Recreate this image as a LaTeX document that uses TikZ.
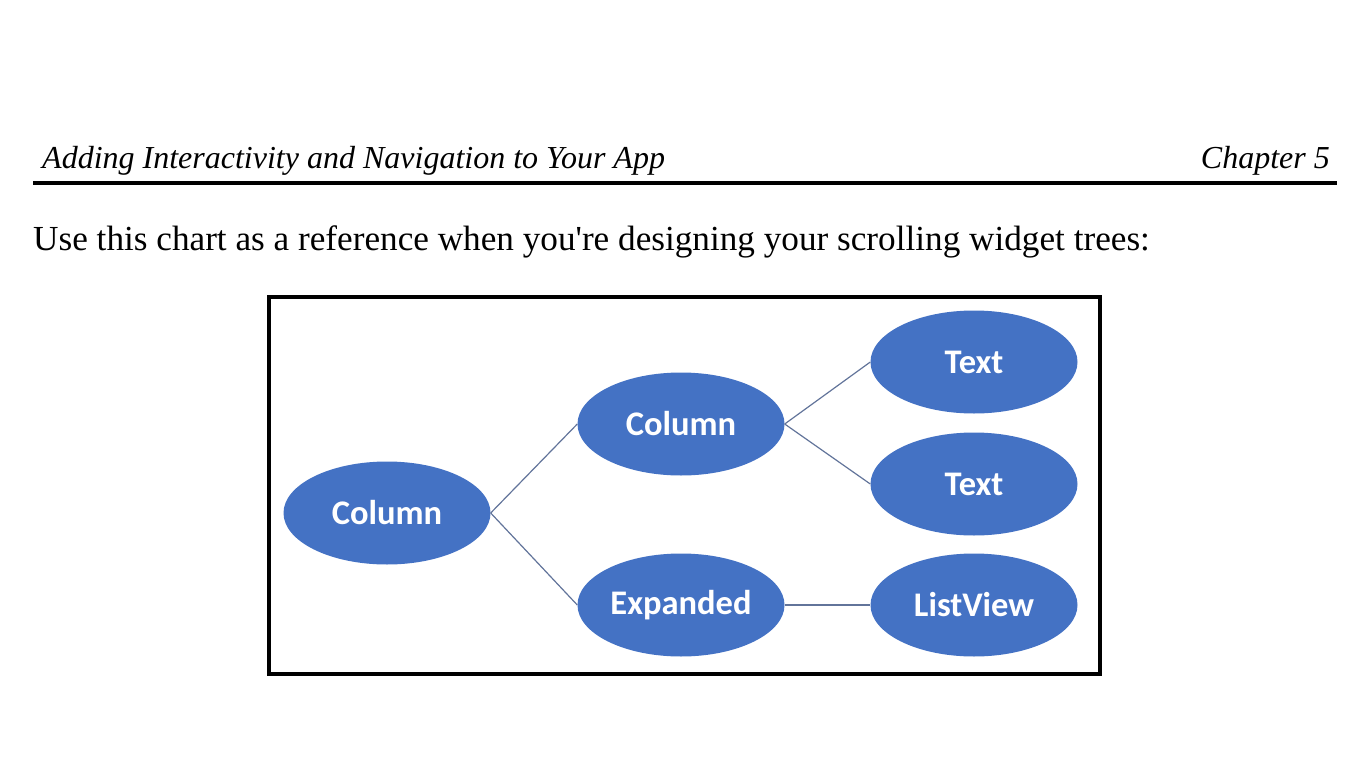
\documentclass[tikz,border=0pt]{standalone}
\usepackage{fontspec}
\usetikzlibrary{shapes.geometric}
\setmainfont{Liberation Serif}
\newfontfamily\carlito{Carlito}
\definecolor{ovalblue}{HTML}{4472C4}
\definecolor{linkgray}{HTML}{62749A}

\begin{document}
\begin{tikzpicture}[x=1pt,y=-1pt,
    oval/.style={ellipse, fill=ovalblue, minimum width=207pt, minimum height=103pt,
      inner sep=0pt, text=white, font=\carlito\bfseries\fontsize{34.5}{40}\selectfont},
    link/.style={draw=linkgray, line width=1.2pt}]
  \useasboundingbox (0,0) rectangle (1366,768);

  % page header
  \node[anchor=base west, inner sep=0pt, font=\itshape\fontsize{32}{36}\selectfont] (head) at (42,168) {Adding Interactivity and Navigation to Your App};
  \node[anchor=base east, inner sep=0pt, font=\itshape\fontsize{32}{36}\selectfont] (chap) at (1330,168) {Chapter 5};
  \draw[line width=4pt] (33,182.5) -- (1337,182.5);
  \node[anchor=base west, inner sep=0pt, font=\fontsize{35.2}{40}\selectfont] (intro) at (33,250) {Use this chart as a reference when you\textquotesingle re designing your scrolling widget trees:};

  % chart frame
  \draw[line width=4pt] (269,297) rectangle (1100,674);

  % widget tree
  \node[oval] (root) at (387,513) {Column};
  \node[oval] (col) at (681,424) {Column};
  \node[oval] (exp) at (681,605) {Expanded};
  \node[oval] (txta) at (974,362) {Text};
  \node[oval] (txtb) at (974,484) {Text};
  \node[oval] (list) at (974,605) {ListView};

  \draw[link] (root.east) -- (col.west);
  \draw[link] (root.east) -- (exp.west);
  \draw[link] (col.east) -- (txta.west);
  \draw[link] (col.east) -- (txtb.west);
  \draw[link] (exp.east) -- (list.west);
\end{tikzpicture}
\end{document}
